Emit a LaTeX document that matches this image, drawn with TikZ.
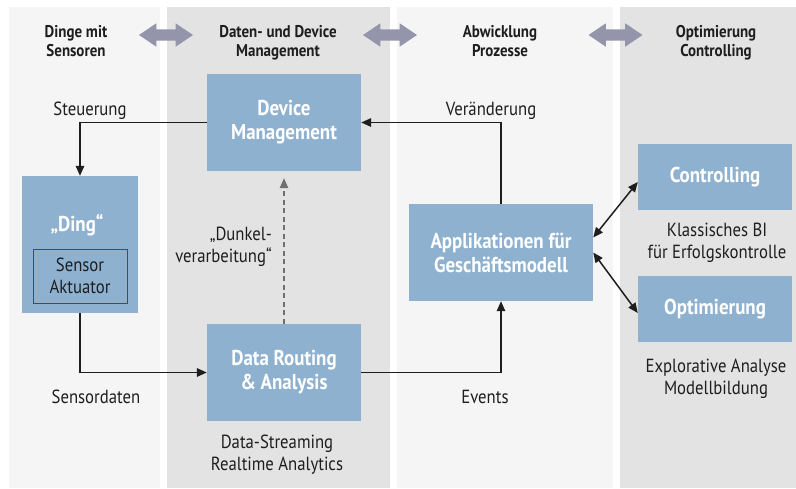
\documentclass[tikz,border=0pt]{standalone}
\usepackage{fontspec}
\setmainfont{PT Sans}[FakeStretch=0.88]
\usetikzlibrary{arrows.meta,shapes.arrows}
\definecolor{boxblue}{HTML}{8EB1D0}
\definecolor{collight}{HTML}{F5F5F5}
\definecolor{coldark}{HTML}{E3E3E3}
\definecolor{darrow}{HTML}{9494AA}
\definecolor{txt}{HTML}{1E1E1E}
\definecolor{dashgray}{HTML}{707070}
\tikzset{
  colbg/.style={fill=#1, draw=none},
  hdr/.style={font=\bfseries\fontsize{17}{19}\selectfont, align=center, anchor=base, text=txt, inner sep=0pt},
  lbl/.style={font=\fontsize{19}{21.5}\selectfont, align=center, anchor=base, text=txt, inner sep=0pt},
  bluebox/.style={fill=boxblue, draw=none, text=white, font=\bfseries\fontsize{21.5}{24}\selectfont, align=center, inner sep=0pt},
  inbox/.style={fill=boxblue, draw=txt!80, line width=0.8pt, text=txt, font=\fontsize{19}{22}\selectfont, align=center, inner sep=0pt},
  bigarrow/.style={double arrow, fill=darrow, draw=none, double arrow head extend=6pt, inner xsep=0pt, inner ysep=5.5pt, minimum height=54pt, double arrow tip angle=68},
  conn/.style={draw=txt, line width=1.5pt, -{Triangle[length=10pt,width=8.5pt]}},
  conn2/.style={draw=txt, line width=1.5pt, {Triangle[length=10pt,width=8.5pt]}-{Triangle[length=10pt,width=8.5pt]}},
  dasharrow/.style={draw=dashgray, line width=1.3pt, dash pattern=on 5pt off 3.5pt, -{Triangle[length=10pt,width=8.5pt]}, shorten >=7pt},
}
\begin{document}
\begin{tikzpicture}[x=1pt,y=-1pt]
\useasboundingbox (0,0) rectangle (796,488);
\fill[white] (0,0) rectangle (796,488);
% columns
\fill[colbg=collight] (9,7) rectangle (160,488);
\fill[colbg=coldark] (167,7) rectangle (390,488);
\fill[colbg=collight] (397,7) rectangle (613,488);
\fill[colbg=coldark] (620,7) rectangle (796,488);
% header arrows
\node[bigarrow] (a1) at (166,35) {};
\node[bigarrow] (a2) at (390,35) {};
\node[bigarrow] (a3) at (615.5,35) {};
% headers (base = last line)
\node[hdr] (h1) at (76,56) {Dinge mit\\Sensoren};
\node[hdr] (h2) at (278,56) {Daten- und Device\\Management};
\node[hdr] (h3) at (500,56) {Abwicklung\\Prozesse};
\node[hdr] (h4) at (716,56) {Optimierung\\Controlling};
% boxes
\node[bluebox, minimum width=154pt, minimum height=97pt] (dev) at (284,122.5) {Device\\Management};
\node[bluebox, minimum width=116pt, minimum height=137pt] (ding) at (80,244.5) {};
\node[bluebox, anchor=base] (dingt) at (77,231) {„Ding“};
\node[inbox, minimum width=94pt, minimum height=54pt] (sensor) at (80,276) {Sensor\\Aktuator};
\node[bluebox, minimum width=154pt, minimum height=97pt] (route) at (284,372.5) {Data Routing\\\& Analysis};
\node[bluebox, minimum width=184pt, minimum height=97pt] (app) at (501,252.5) {Applikationen für\\Geschäftsmodell};
\node[bluebox, minimum width=154pt, minimum height=66pt] (ctrl) at (715,177) {Controlling};
\node[bluebox, minimum width=154pt, minimum height=66pt] (opt) at (715,309) {Optimierung};
% labels
\node[lbl] (l1) at (90,115) {Steuerung};
\node[lbl] (l2) at (491,115) {Veränderung};
\node[lbl] (l3) at (96,403) {Sensordaten};
\node[lbl] (l4) at (485,403) {Events};
\node[lbl] (l5) at (277,470) {Data-Streaming\\Realtime Analytics};
\node[lbl] (l6) at (717,258) {Klassisches BI\\für Erfolgskontrolle};
\node[lbl] (l7) at (716,394) {Explorative Analyse\\Modellbildung};
\node[lbl, align=right, anchor=base east] (l8) at (272,262) {„Dunkel-\\verarbeitung“};
% connectors
\draw[conn] (dev.west) -| (ding.north);
\draw[conn] (ding.south) |- (route.west);
\draw[conn] (route.east) -| (app.south);
\draw[conn] (app.north) |- (dev.east);
\draw[dasharrow] (route.north) -- (dev.south);
\draw[conn2] ([yshift=15pt]app.east) -- ([yshift=-5pt]ctrl.west);
\draw[conn2] (app.east) -- ([yshift=-4pt]opt.west);
\end{tikzpicture}
\end{document}
